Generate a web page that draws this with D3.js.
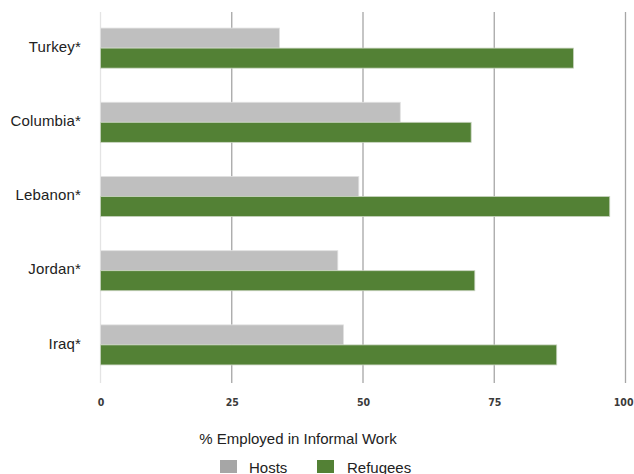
<!DOCTYPE html>
<html><head><meta charset="utf-8">
<script src="https://cdn.jsdelivr.net/npm/d3@7"></script>
<style>body{margin:0;background:#fff}svg{display:block}</style>
</head><body>
<script>
const categories = ["Turkey*", "Columbia*", "Lebanon*", "Jordan*", "Iraq*"];
const hosts = [34.1, 57.1, 49.2, 45.2, 46.3];
const refugees = [90.1, 70.6, 97.0, 71.3, 86.9];
const tickValues = [0, 25, 50, 75, 100];
const seriesNames = ["Hosts", "Refugees"];

const W = 634, H = 474;
const svg = d3.select("body").append("svg").attr("width", W).attr("height", H);
const x = d3.scaleLinear().domain([0, 100]).range([100.5, 625.5]);
const y = d3.scaleBand().domain(categories).range([11, 382]).paddingInner(0.46).paddingOuter(0.23);

// gridlines
svg.append("g").selectAll("line").data(tickValues).join("line")
  .attr("x1", d => x(d)).attr("x2", d => x(d))
  .attr("y1", 12).attr("y2", 383)
  .attr("stroke", d => d === 0 ? "#e4e4e4" : "#a6a6a6").attr("stroke-width", 1.3);

// tick labels
const xAxis = d3.axisBottom(x).tickValues(tickValues).tickSize(0).tickPadding(0);
const ga = svg.append("g").attr("transform", "translate(0,406)").call(xAxis);
ga.select(".domain").remove();
ga.selectAll("text").attr("fill", "#3a3a3a").attr("dy", 0)
  .attr("font-family", "'DejaVu Sans Condensed', 'DejaVu Sans', sans-serif")
  .attr("font-stretch", "condensed").attr("font-weight", "bold").attr("font-size", 10.5);
// keep the last label inside the page edge
ga.selectAll(".tick").filter(d => d === tickValues[tickValues.length - 1]).select("text")
  .attr("text-anchor", "end").attr("x", 633 - x(100));

// bars
const bh = y.bandwidth() / 2;
const g = svg.append("g");
g.selectAll("rect.h").data(categories).join("rect").attr("class", "h")
  .attr("x", x(0)).attr("y", d => y(d))
  .attr("width", (d, i) => x(hosts[i]) - x(0)).attr("height", bh)
  .attr("fill", "#bfbfbf").attr("stroke", "#e2e2e2").attr("stroke-width", 0.8);
g.selectAll("rect.r").data(categories).join("rect").attr("class", "r")
  .attr("x", x(0)).attr("y", d => y(d) + bh)
  .attr("width", (d, i) => x(refugees[i]) - x(0)).attr("height", bh)
  .attr("fill", "#538135").attr("stroke", "#c9d4c0").attr("stroke-width", 0.8);

// category labels
const yAxis = d3.axisLeft(y).tickSize(0).tickPadding(0);
const gy = svg.append("g").attr("transform", "translate(81,0)").call(yAxis);
gy.select(".domain").remove();
gy.selectAll("text").attr("fill", "#222").attr("dy", "0.25em")
  .attr("font-family", "'Liberation Sans', Arial, sans-serif").attr("font-size", 15)
  .attr("letter-spacing", 0.15);

// axis title
svg.append("text").attr("x", 298).attr("y", 444).attr("text-anchor", "middle")
  .attr("font-family", "'Liberation Sans', Arial, sans-serif").attr("font-size", 15).attr("fill", "#222")
  .text("% Employed in Informal Work");

// legend
const leg = [{n: seriesNames[0], c: "#a6a6a6", x: 220, tx: 249}, {n: seriesNames[1], c: "#538135", x: 317, tx: 347}];
const lg = svg.append("g");
lg.selectAll("rect").data(leg).join("rect").attr("x", d => d.x).attr("y", 460).attr("width", 17).attr("height", 13).attr("fill", d => d.c);
lg.selectAll("text").data(leg).join("text").attr("x", d => d.tx).attr("y", 472.5)
  .attr("font-family", "'Liberation Sans', Arial, sans-serif").attr("font-size", 15).attr("fill", "#222").text(d => d.n);
</script>
</body></html>
